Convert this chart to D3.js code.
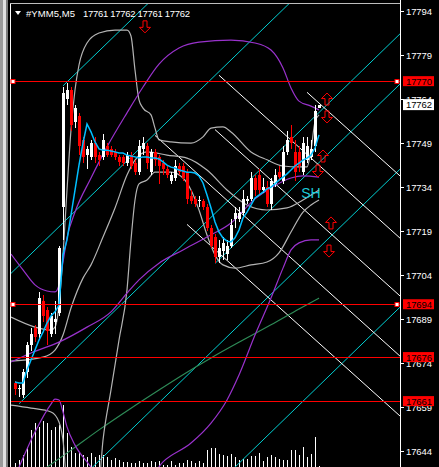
<!DOCTYPE html>
<html><head><meta charset="utf-8">
<script src="https://cdn.jsdelivr.net/npm/d3@7"></script>
<style>body{margin:0;background:#000;overflow:hidden}svg{display:block}</style>
</head><body><svg id="c" width="439" height="467"></svg>
<script>
// ---------- DATA ----------
const symbol = "#YMM5,M5";
const lastOHLC = ["17761", "17762", "17761", "17762"];
const opens  = [17667,17665,17663,17671,17680,17686,17684,17695,17692,17684,17688,17691,17727,17764,17767,17756,17758,17750,17745,17744,17749,17745,17744,17748,17747,17746,17744,17744,17742,17745,17742,17739,17747,17748,17739,17746,17744,17742,17740,17736,17737,17741,17741,17739,17731,17730,17729,17729,17727,17720,17717,17710,17712,17711,17714,17723,17723,17725,17729,17730,17737,17738,17733,17734,17728,17735,17739,17736,17746,17751,17746,17746,17739,17743,17744,17748,17761];
const highs  = [17668,17666.5,17672,17681,17686,17687,17698,17697,17693,17691,17695,17714,17768,17769.5,17768,17762,17759,17751,17748,17750,17751,17746,17752,17749,17748,17747,17745,17745,17746,17746,17743,17750,17751,17749,17747,17747,17745,17743,17741,17739,17743,17742,17742,17740,17733,17731,17731,17730,17728,17721,17718,17716,17717,17716,17723,17727,17727,17733,17731,17739,17738,17740,17737,17736,17737,17740,17741,17748,17753,17755,17750,17748,17751,17751,17750,17762,17762];
const lows   = [17663,17662.5,17662,17669,17678,17681,17682,17688,17680,17683,17684,17690,17716,17762,17753,17754,17745,17742,17740,17743,17742,17741,17743,17744,17744,17743,17741,17741,17741,17740,17738,17738,17745,17740,17738,17741,17735,17738,17737,17735,17736,17738,17736,17728,17728,17727,17727,17726,17719,17713,17708,17708,17709,17709,17713,17720,17722,17724,17728,17729,17731,17731,17732,17727,17726,17734,17736,17735,17745,17747,17736,17739,17738,17742,17743,17746,17761];
const closes = [17665,17665.5,17671,17680,17684,17683,17696,17690,17685,17690,17689,17713,17766,17767,17755,17761,17748,17744,17747,17749,17744,17743,17750,17745,17745,17744,17742.5,17742,17745,17741,17739,17748,17749,17742,17746,17743,17741,17740,17738,17738,17741,17739,17737,17730,17729,17728,17729.5,17727,17720,17714,17710,17713,17715,17714,17721,17725,17725,17730,17730,17737,17733,17733,17734,17728,17736,17738,17737.5,17746,17750,17749,17739,17741,17749,17748,17747,17760,17762];
const volumes = [4,7,12,20,37,44,40,46,44,37,40,42,62,34,20,14,15,12,10,14,10,12,12,10,7,9,7,5,5,4,4,6,4,4,6,5,6,2,2,6,2,4,4,7,6,4,6,4,17,19,19,13,12,11,13,10,7,8,8,11,11,14,6,10,12,10,8,7,7,17,17,12,20,10,13,30,1];

const priceTicks = [17794,17779,17764,17749,17734,17719,17704,17689,17674,17659,17644];
const levels = [17770, 17694, 17676, 17661];
const levelHandles = [true, true, false, false];
const bidPrice = 17762;

// fast moving average (blue), one value per bar
const blueMA = [17667.5,17667.2,17667.2,17671.6,17675.0,17678.4,17681.8,17684.5,17687.6,17690.0,17691.4,17693.7,17710.8,17715.9,17724.4,17732.9,17741.4,17748.9,17755.4,17752.7,17749.3,17746.9,17746.5,17746.5,17746.2,17745.9,17745.5,17745.5,17744.8,17744.5,17744.2,17743.8,17744.2,17744.2,17743.8,17743.8,17743.5,17742.5,17741.4,17740.7,17740.4,17739.7,17739.4,17739.0,17739.0,17738.7,17737.7,17735.3,17731.2,17726.8,17722.0,17718.6,17716.6,17715.5,17715.2,17716.6,17719.3,17723.4,17725.4,17727.8,17730.2,17731.2,17732.2,17733.3,17733.9,17735.0,17736.3,17737.3,17738.4,17739.7,17741.1,17742.1,17743.1,17743.8,17744.8,17747.2,17751.7];
// [bar, price] readings
const purpleUpper = [[-1,17711.1],[2,17705.7],[5,17700.6],[8,17698.5],[10,17698.2],[11,17700.6],[12,17708.4],[13,17716.6],[15,17725.4],[19,17737.0],[23,17747.6],[28,17759.2],[32,17768.0],[36,17775.8],[41,17781.3],[46,17783.3],[54,17784.0],[60,17783.0],[64,17780.6],[67,17774.5],[69,17767.7],[71,17763.2],[74,17761.5],[76,17760.2]];
const purpleMid = [[-1,17674.3],[4,17677.4],[11,17681.1],[18,17686.2],[24,17691.4],[28,17697.8],[31,17702.3],[36,17708.0],[42,17712.5],[48,17716.9],[54,17721.7],[60,17729.9],[64,17733.6],[69,17737.0],[72,17737.7],[76,17737.3]];
const purpleLower = [[1,17638.5],[5,17650.5],[9,17660.0],[10,17661.7],[11,17661.4],[12,17657.3],[13,17652.2],[15,17646.0],[18,17640.3],[21,17635.8],[33,17634.1],[37,17640.3],[44,17646.7],[49,17653.5],[53,17661.4],[56,17669.9],[60,17683.5],[64,17696.1],[67,17706.3],[69,17712.5],[71,17714.9],[74,17715.9],[76,17715.9]];
const grayUpper = [[-1,17689.6],[5,17686.2],[9,17685.2],[10,17686.2],[11,17693.7],[12,17710.8],[13,17732.9],[14,17753.4],[15,17767.0],[16,17775.5],[18,17783.0],[21,17786.4],[25,17787.4],[28,17787.4],[29,17785.4],[30,17773.8],[31,17763.6],[32,17760.8],[34,17758.5],[35,17754.0],[36,17750.0],[39,17749.3],[44,17748.9],[47,17751.0],[49,17754.0],[52,17754.4],[54,17752.7],[59,17745.9],[63,17743.2],[67,17741.1],[71,17740.8],[73,17740.8],[74,17746.5],[75,17756.1],[76,17758.5]];
const grayMid = [[-1,17674.6],[7,17676.0],[10,17678.4],[12,17683.5],[14,17692.7],[17,17702.9],[19,17707.4],[22,17716.9],[25,17726.8],[28,17738.0],[30,17743.1],[33,17745.9],[38,17744.8],[43,17743.8],[48,17739.7],[53,17732.9],[58,17727.8],[63,17726.1],[68,17726.8],[72,17729.5],[76,17732.9]];
const grayLower = [[-1,17659.6],[4,17658.6],[9,17657.3],[11,17653.9],[12,17647.7],[13,17634.1],[21,17634.1],[22,17647.7],[24,17664.8],[26,17681.8],[28,17698.9],[29,17715.9],[30,17729.5],[31,17735.0],[33,17736.3],[35,17739.0],[39,17739.0],[42,17737.0],[44,17732.9],[46,17726.1],[48,17717.6],[50,17710.8],[52,17707.4],[55,17706.3],[59,17707.4],[63,17708.4],[66,17711.5],[69,17718.6],[72,17725.4],[74,17727.8],[76,17729.5]];
const greenMA = [[8,17638.5],[14,17644.3],[21,17651.2],[29,17658.6],[36,17664.8],[42,17670.0],[49,17675.7],[57,17681.8],[64,17687.0],[71,17692.4],[76,17696.1]];
// rising channel lines (start bar, start price, end bar, end price)
const cyanLines = [[12,17768.4,37,17801.4],[-2,17703.2,71,17799.7],[1,17660.1,97,17787.1],[50,17707.9,97,17770.0],[19,17638.0,97,17741.0],[55,17638.5,97,17694.0]];
// falling channel lines
const whiteLines = [[73,17766.2,97,17736.8],[51,17772.0,97,17715.6],[50,17753.5,97,17695.9],[35,17751.5,97,17675.4],[43,17721.2,97,17655.0]];
// signal arrows
const arrowBars = [32.5, 78, 78, 77, 75.75, 79, 78.5];
const arrowPrices = [17788.5, 17763.9, 17757.8, 17744.5, 17739.4, 17721.7, 17712.1];
const arrowDirs = ["down","up","down","up","down","up","down"];
const noteText = "SH", noteBar = 74, notePrice = 17731.9;

// ---------- CHART ----------
const W = 439, H = 467;
const svg = d3.select('#c');
const x = d3.scaleLinear().domain([0, 1]).range([15, 19]);
const y = d3.scaleLinear().domain([17644, 17794]).range([451, 10.7]);
const vy = d3.scaleLinear().domain([0, 62]).range([467, 405]);
const font = "'Liberation Sans', Arial, sans-serif";

svg.append('rect').attr('width', W).attr('height', H).attr('fill', '#000');
// left window edge
svg.append('rect').attr('x',0).attr('y',0).attr('width',3).attr('height',H).attr('fill','#9a9a9a');
svg.append('rect').attr('x',3).attr('y',0).attr('width',3).attr('height',H).attr('fill','#e0e0e0');
svg.append('rect').attr('x',6).attr('y',0).attr('width',2).attr('height',H).attr('fill','#7a7a7a');
svg.append('line').attr('x1',10.5).attr('x2',10.5).attr('y1',3).attr('y2',H).attr('stroke','#fff');
svg.append('line').attr('x1',10).attr('x2',401).attr('y1',3.5).attr('y2',3.5).attr('stroke','#bdbdbd');

svg.append('defs').append('clipPath').attr('id','plot').append('rect')
  .attr('x',11).attr('y',4).attr('width',389).attr('height',H-4);
const g = svg.append('g').attr('clip-path','url(#plot)');

const line = d3.line().x(d => x(d[0])).y(d => y(d[1]));

// volumes
g.append('g').attr('shape-rendering','crispEdges').selectAll('line').data(volumes).join('line')
  .attr('x1',(d,i)=>Math.round(x(i))+0.5).attr('x2',(d,i)=>Math.round(x(i))+0.5)
  .attr('y1',vy(0)).attr('y2',d=>vy(d)).attr('stroke','#fff');

// channel lines
g.append('g').selectAll('path').data(cyanLines).join('path')
  .attr('d', d => line([[d[0],d[1]],[d[2],d[3]]])).attr('stroke','#00ced1').attr('fill','none').attr('stroke-width',1);
g.append('g').selectAll('path').data(whiteLines).join('path')
  .attr('d', d => line([[d[0],d[1]],[d[2],d[3]]])).attr('stroke','#fff').attr('fill','none').attr('stroke-width',1);

// indicator lines
const curve = d3.line().x(d => x(d[0])).y(d => y(d[1])).curve(d3.curveMonotoneX);
[[greenMA,'#2e8b57'],[grayUpper,'#b4b4b4'],[grayMid,'#b4b4b4'],[grayLower,'#b4b4b4'],
 [purpleUpper,'#9932cc'],[purpleMid,'#9932cc'],[purpleLower,'#9932cc']].forEach(([d,c]) => {
  g.append('path').attr('d', curve(d)).attr('stroke',c).attr('fill','none').attr('stroke-width',1.2);
});

// candles
const bars = d3.range(opens.length).map(i => ({i, o:opens[i], h:highs[i], l:lows[i], c:closes[i]}));
const cg = g.append('g').attr('shape-rendering','crispEdges');
cg.selectAll('line').data(bars).join('line')
  .attr('x1',d=>Math.round(x(d.i))+0.5).attr('x2',d=>Math.round(x(d.i))+0.5)
  .attr('y1',d=>y(d.h)).attr('y2',d=>y(d.l))
  .attr('stroke',d=>d.c>=d.o?'#fff':'#ff0000');
cg.selectAll('rect').data(bars).join('rect')
  .attr('x',d=>Math.round(x(d.i))-1).attr('width',3)
  .attr('y',d=>y(Math.max(d.o,d.c))).attr('height',d=>Math.max(1, Math.abs(y(d.o)-y(d.c))))
  .attr('fill',d=>d.c>=d.o?'#fff':'#ff0000');

// blue MA over candles
g.append('path').attr('d', d3.line().x((d,i)=>x(i)).y(d=>y(d))(blueMA))
  .attr('stroke','#00bfff').attr('fill','none').attr('stroke-width',1.5);

// red horizontal levels (objects on top)
const lg = g.append('g').attr('shape-rendering','crispEdges');
levels.forEach(l => {
  const py = Math.round(y(l)) + 0.5;
  lg.append('line').attr('x1',11).attr('x2',400).attr('y1',py).attr('y2',py)
    .attr('stroke','#ff0000').attr('stroke-width',1);
});
levels.forEach((l,i) => {
  if (!levelHandles[i]) return;
  [13, 397].forEach(px => {
    svg.append('rect').attr('x',px-2).attr('y',Math.round(y(l))-1.5).attr('width',4).attr('height',4)
      .attr('fill','#fff').attr('stroke','#ff0000').attr('stroke-width',1);
  });
});

// arrows
function arrowPath(cx, cy, dir) {
  const s = dir === 'up' ? 1 : -1;
  const pts = [[0,-6],[5.5,-0.5],[2,-0.5],[2,6],[-2,6],[-2,-0.5],[-5.5,-0.5]];
  return 'M' + pts.map(p => [cx+p[0], cy+s*p[1]].join(',')).join('L') + 'Z';
}
g.append('g').selectAll('path').data(arrowBars).join('path')
  .attr('d',(d,i)=>arrowPath(x(d), y(arrowPrices[i]), arrowDirs[i]))
  .attr('fill','none').attr('stroke','#ff0000').attr('stroke-width',1);

g.append('text').attr('x',x(noteBar)).attr('y',y(notePrice)+5).attr('text-anchor','middle')
  .attr('font-family',font).attr('font-size',14).attr('fill','#1cc8d8').text(noteText);

// header
svg.append('path').attr('d','M15,11L21,11L18,15Z').attr('fill','#fff');
svg.append('text').attr('x',26).attr('y',16.5).attr('font-family',font).attr('font-size',9.5).attr('fill','#fff')
  .attr('textLength',49).attr('lengthAdjust','spacing').text(symbol);
svg.append('text').attr('x',83).attr('y',16.5).attr('font-family',font).attr('font-size',9.5).attr('fill','#fff')
  .attr('textLength',107).attr('lengthAdjust','spacing').text(lastOHLC.join(' '));

// price axis
svg.append('line').attr('x1',400.5).attr('x2',400.5).attr('y1',0).attr('y2',H).attr('stroke','#fff');
const ax = svg.append('g');
function label(t, px, py, fill) {
  ax.append('text').attr('x',px).attr('y',py).attr('font-family',font).attr('font-size',9.5).attr('fill',fill)
    .attr('textLength',26).attr('lengthAdjust','spacing').text(t);
}
priceTicks.forEach(t => {
  const py = Math.round(y(t))+0.5;
  ax.append('line').attr('x1',401).attr('x2',404).attr('y1',py).attr('y2',py).attr('stroke','#fff');
  label(t, 406, py+3.5, '#fff');
});
levels.forEach(l => {
  const py = y(l);
  ax.append('rect').attr('x',403).attr('y',py-5).attr('width',31).attr('height',10).attr('fill','#ff0000');
  label(l, 406, py+3.5, '#000');
});
{
  const py = y(bidPrice);
  ax.append('rect').attr('x',403).attr('y',py-5.5).attr('width',31).attr('height',11).attr('fill','#fff');
  label(bidPrice, 406, py+3.5, '#000');
}
</script></body></html>
